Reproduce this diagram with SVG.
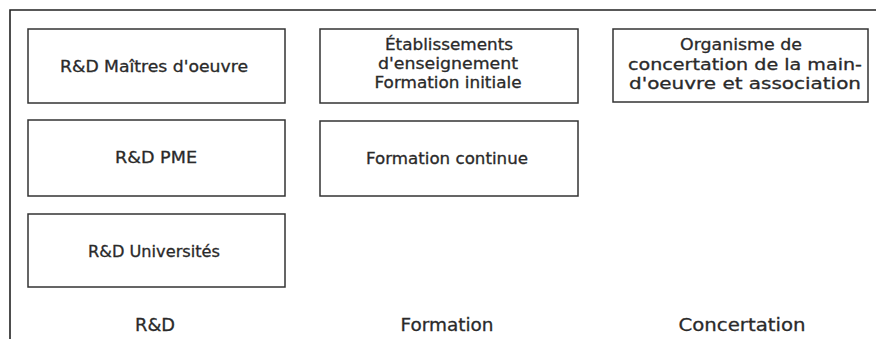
<svg xmlns="http://www.w3.org/2000/svg" width="876" height="339" viewBox="0 0 876 339">
  <style>
    .frame { fill: none; stroke: #222; stroke-width: 1.6; }
    .box { fill: #fff; stroke: #333; stroke-width: 1.5; }
    .t { font-family: "DejaVu Sans", "Liberation Sans", sans-serif; font-size: 15.5px; fill: #2a2a2a; stroke: #2a2a2a; stroke-width: 0.3; text-anchor: middle; }
    .lbl { font-family: "DejaVu Sans", "Liberation Sans", sans-serif; font-size: 17.5px; fill: #2a2a2a; stroke: #2a2a2a; stroke-width: 0.3; text-anchor: middle; }
  </style>
  <rect width="876" height="339" fill="#fff"/>

  <!-- open frame: top and left edges only -->
  <path class="frame" d="M10,339 V10 H876"/>

  <g id="connectors"/>

  <!-- R&D column -->
  <g id="rd-maitres">
    <rect class="box" x="28" y="29" width="257" height="74"/>
    <text class="t" x="154" y="72" textLength="188" lengthAdjust="spacingAndGlyphs">R&amp;D Maîtres d'oeuvre</text>
  </g>
  <g id="rd-pme">
    <rect class="box" x="28" y="120" width="257" height="76"/>
    <text class="t" x="156" y="163" textLength="82" lengthAdjust="spacingAndGlyphs">R&amp;D PME</text>
  </g>
  <g id="rd-universites">
    <rect class="box" x="28" y="214" width="257" height="73"/>
    <text class="t" x="154" y="257" textLength="132" lengthAdjust="spacingAndGlyphs">R&amp;D Universités</text>
  </g>

  <!-- Formation column -->
  <g id="formation-initiale">
    <rect class="box" x="320" y="29" width="258" height="74"/>
    <text class="t" x="449" y="50" textLength="128" lengthAdjust="spacingAndGlyphs">Établissements</text>
    <text class="t" x="448" y="69" textLength="140" lengthAdjust="spacingAndGlyphs">d'enseignement</text>
    <text class="t" x="448" y="88" textLength="147" lengthAdjust="spacingAndGlyphs">Formation initiale</text>
  </g>
  <g id="formation-continue">
    <rect class="box" x="320" y="121" width="258" height="75"/>
    <text class="t" x="447" y="164" textLength="162" lengthAdjust="spacingAndGlyphs">Formation continue</text>
  </g>

  <!-- Concertation column -->
  <g id="organisme">
    <rect class="box" x="613" y="29" width="255" height="73"/>
    <text class="t" x="741" y="50" textLength="122" lengthAdjust="spacingAndGlyphs">Organisme de</text>
    <text class="t" x="745" y="70" textLength="234" lengthAdjust="spacingAndGlyphs">concertation de la main-</text>
    <text class="t" x="745" y="89" textLength="232" lengthAdjust="spacingAndGlyphs">d'oeuvre et association</text>
  </g>

  <!-- column captions -->
  <g id="captions">
    <text class="lbl" x="155" y="331" textLength="40" lengthAdjust="spacingAndGlyphs">R&amp;D</text>
    <text class="lbl" x="447" y="331" textLength="93" lengthAdjust="spacingAndGlyphs">Formation</text>
    <text class="lbl" x="742" y="331" textLength="127" lengthAdjust="spacingAndGlyphs">Concertation</text>
  </g>
</svg>
